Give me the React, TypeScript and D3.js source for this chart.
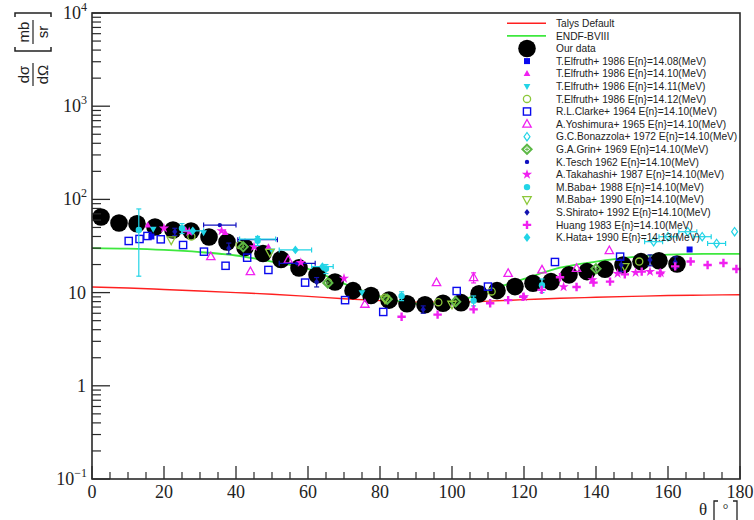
import React from "react";
import * as d3 from "d3";

// θ (deg), value (mb/sr), optional y error, optional x error
type Pt = [number, number, number?, number?];

const ourAngles = [
  2.5, 7.5, 12.5, 17.5, 22.5, 27.5, 32.5, 37.5, 42.5, 47.5, 52.5, 57.5, 62.5,
  67.5, 72.5, 77.5, 82.5, 87.5, 92.5, 97.5, 102.5, 107.5, 112.5, 117.5, 122.5,
  127.5, 132.5, 137.5, 142.5, 147.5, 152.5, 157.5, 162.5,
];
const ourValues = [
  64.7, 55.8, 54.7, 50.6, 47.0, 45.8, 39.5, 34.9, 30.5, 26.3, 22.7, 18.4, 15.5,
  13.0, 10.5, 9.3, 8.3, 7.6, 7.4, 7.7, 7.8, 9.7, 10.5, 11.6, 12.6, 13.1, 15.5,
  16.8, 17.8, 19.8, 21.5, 22.0, 20.3,
];

const curveAngles = [0, 10, 20, 30, 40, 50, 60, 70, 80, 90, 100, 110, 120, 130, 140, 150, 160, 170, 180];
const talysValues = [11.5, 11.2, 10.8, 10.4, 10.0, 9.6, 9.1, 8.6, 8.2, 7.9, 7.9, 8.1, 8.4, 8.7, 8.9, 9.1, 9.3, 9.4, 9.5];
const endfValues = [30, 29.6, 28.7, 27.2, 25, 21.5, 18, 12.5, 9.0, 7.6, 7.9, 10.5, 14, 18.5, 21.5, 24, 25.5, 26, 26];

const elfruth1408: Pt[] = [[16.5, 40], [166, 29]];
const elfruth1410: Pt[] = [[15.5, 53], [26, 47], [37, 44], [49, 31]];
const elfruth1411: Pt[] = [[17, 48], [31, 44], [50, 28], [75, 10]];
const elfruth1412: Pt[] = [[27.6, 40], [41, 32.4], [65.6, 12.9], [81.4, 8.8], [96.2, 7.9], [111, 10.3], [152, 21.5]];
const clarke1964: Pt[] = [
  [10.2, 35.8], [13.2, 37.6], [15.4, 40.5], [19.1, 37.3], [25.3, 32.4], [31.1, 27.5],
  [37.1, 19.4], [43.1, 23.7], [49, 17.5], [59.2, 12.8], [70.3, 8.3], [80.9, 6.2],
  [101.3, 10.4], [110, 11.6], [128.6, 21.3], [146.7, 24.3],
];
const yoshimura1965: Pt[] = [
  [33, 24.3], [44, 16.8], [54.5, 22.4], [75.8, 7.5], [95.7, 12.8], [106, 14.5, 1.8],
  [115.6, 16.1], [125, 17.5], [134.6, 18.2], [143.7, 28.2],
];
const bonazzola1972: Pt[] = [
  [156, 35.2, 0, 2.5], [160, 39.8, 0, 2.5], [165.5, 45, 0, 2.5], [169.5, 39.8, 0, 2.5],
  [173.5, 33.7, 0, 2.5], [178.5, 45],
];
const grin1969: Pt[] = [[42, 31], [65.5, 12.7], [82, 8.5], [101, 8], [140, 18]];
const tesch1962: Pt[] = [[35.5, 53, 0, 4.5], [46, 37, 0, 5.5], [57, 20.6, 0, 5]];
const takahashi1987: Pt[] = [
  [20, 49], [27, 45], [36, 46], [45, 31], [58, 21], [70, 14.2], [120, 9], [131, 11.5],
  [139, 13.7], [146, 16], [151, 16.4], [155, 16.8], [158, 16.2],
];
const baba1988: Pt[] = [[13, 47, 32], [25, 49, 6], [46, 36, 4], [65, 18, 2], [86, 9.2, 1], [106, 8.2, 1], [125, 12, 2]];
const baba1990: Pt[] = [[22, 36.7], [49.4, 27], [81.4, 8.5], [100, 7.5], [148, 19]];
const shirato1992: Pt[] = [[23, 45, 4], [38, 30, 4], [62.4, 13, 1.5], [92, 6.6, 0.6], [147, 19.8, 3], [155, 22.4, 3], [162, 21.2, 3]];
const huang1983: Pt[] = [
  [86, 5.5], [96, 5.8], [106, 6.6], [110.6, 7.7], [115.6, 8.3], [119.8, 9], [124.9, 10.7],
  [130, 14.6], [134.6, 11.5], [139.3, 12.8], [143.9, 13.1], [148, 15.7], [152.7, 16.8],
  [157.8, 16.2], [162, 19.1], [166.3, 21.6], [171, 19.8], [175.4, 20.8], [179, 17.9],
];
const hata1990: Pt[] = [[28, 46, 0, 3], [46, 37.5, 0, 5], [56.5, 28.7, 0, 4.5], [64, 19, 0, 3]];

const xTicks = [0, 20, 40, 60, 80, 100, 120, 140, 160, 180];
const yDecades = [-1, 0, 1, 2, 3, 4];

const BLUE = "#0a0aee";
const MAGENTA = "#f020f0";
const CYAN = "#22d4e6";
const OLIVE = "#8cc83a";
const GRIN = "#5cb845";

type Kind =
  | "bigCircle" | "squareFill" | "triUpFill" | "triDownFill" | "circleOpen"
  | "squareOpen" | "triUpOpen" | "diamondOpen" | "diamondGrin" | "dot" | "star"
  | "circleFill" | "triDownOpen" | "diamondSmall" | "plus" | "diamondFill";

interface Series { label: string; kind: Kind; color: string; points: Pt[] }

const series: Series[] = [
  { label: "T.Elfruth+ 1986 E{n}=14.08(MeV)", kind: "squareFill", color: BLUE, points: elfruth1408 },
  { label: "T.Elfruth+ 1986 E{n}=14.10(MeV)", kind: "triUpFill", color: MAGENTA, points: elfruth1410 },
  { label: "T.Elfruth+ 1986 E{n}=14.11(MeV)", kind: "triDownFill", color: CYAN, points: elfruth1411 },
  { label: "T.Elfruth+ 1986 E{n}=14.12(MeV)", kind: "circleOpen", color: OLIVE, points: elfruth1412 },
  { label: "R.L.Clarke+ 1964 E{n}=14.10(MeV)", kind: "squareOpen", color: BLUE, points: clarke1964 },
  { label: "A.Yoshimura+ 1965 E{n}=14.10(MeV)", kind: "triUpOpen", color: MAGENTA, points: yoshimura1965 },
  { label: "G.C.Bonazzola+ 1972 E{n}=14.10(MeV)", kind: "diamondOpen", color: CYAN, points: bonazzola1972 },
  { label: "G.A.Grin+ 1969 E{n}=14.10(MeV)", kind: "diamondGrin", color: GRIN, points: grin1969 },
  { label: "K.Tesch 1962 E{n}=14.10(MeV)", kind: "dot", color: "#1010c0", points: tesch1962 },
  { label: "A.Takahashi+ 1987 E{n}=14.10(MeV)", kind: "star", color: MAGENTA, points: takahashi1987 },
  { label: "M.Baba+ 1988 E{n}=14.10(MeV)", kind: "circleFill", color: CYAN, points: baba1988 },
  { label: "M.Baba+ 1990 E{n}=14.10(MeV)", kind: "triDownOpen", color: OLIVE, points: baba1990 },
  { label: "S.Shirato+ 1992 E{n}=14.10(MeV)", kind: "diamondSmall", color: "#1414b0", points: shirato1992 },
  { label: "Huang 1983 E{n}=14.10(MeV)", kind: "plus", color: MAGENTA, points: huang1983 },
  { label: "K.Hata+ 1990 E{n}=14.13(MeV)", kind: "diamondFill", color: CYAN, points: hata1990 },
];

const W = 754;
const H = 520;
const x = d3.scaleLinear().domain([0, 180]).range([92, 740]);
const y = d3.scaleLog().domain([0.1, 1e4]).range([479, 13]);

const starPath = d3.symbol().type(d3.symbolStar).size(32)() as string;

function Marker({ kind, color, cx, cy }: { kind: Kind; color: string; cx: number; cy: number }) {
  const t = `translate(${cx},${cy})`;
  switch (kind) {
    case "bigCircle":
      return <circle cx={cx} cy={cy} r={8.8} fill="#000" />;
    case "squareFill":
      return <rect x={cx - 3} y={cy - 3} width={6} height={6} fill={color} />;
    case "triUpFill":
      return <path transform={t} d="M0,-3.6L3.4,2.4L-3.4,2.4Z" fill={color} />;
    case "triDownFill":
      return <path transform={t} d="M0,3.6L3.4,-2.4L-3.4,-2.4Z" fill={color} />;
    case "circleOpen":
      return <circle cx={cx} cy={cy} r={3.6} fill="none" stroke={color} strokeWidth={1.3} />;
    case "squareOpen":
      return <rect x={cx - 3.6} y={cy - 3.6} width={7.2} height={7.2} fill="none" stroke={color} strokeWidth={1.4} />;
    case "triUpOpen":
      return <path transform={t} d="M0,-4.6L4.2,3L-4.2,3Z" fill="none" stroke={color} strokeWidth={1.3} />;
    case "triDownOpen":
      return <path transform={t} d="M0,4.6L4.2,-3L-4.2,-3Z" fill="none" stroke={color} strokeWidth={1.3} />;
    case "diamondOpen":
      return <path transform={t} d="M0,-4.2L3,0L0,4.2L-3,0Z" fill="none" stroke={color} strokeWidth={1.2} />;
    case "diamondGrin":
      return (
        <g transform={t}>
          <path d="M0,-4.6L4.6,0L0,4.6L-4.6,0Z" fill="none" stroke={color} strokeWidth={2} />
          <path d="M-2,0H2M0,-2V2" stroke={color} strokeWidth={1} />
        </g>
      );
    case "dot":
      return <circle cx={cx} cy={cy} r={2.2} fill={color} />;
    case "star":
      return <path transform={t} d={starPath} fill={color} />;
    case "circleFill":
      return <circle cx={cx} cy={cy} r={3.2} fill={color} />;
    case "diamondSmall":
      return <path transform={t} d="M0,-3.4L2.6,0L0,3.4L-2.6,0Z" fill={color} />;
    case "plus":
      return <path transform={t} d="M-1.2,-4.2H1.2V-1.2H4.2V1.2H1.2V4.2H-1.2V1.2H-4.2V-1.2H-1.2Z" fill={color} />;
    case "diamondFill":
      return <path transform={t} d="M0,-4.4L3.4,0L0,4.4L-3.4,0Z" fill={color} />;
  }
  return null;
}

function ErrorBars({ s }: { s: Series }) {
  const items: React.ReactNode[] = [];
  s.points.forEach((p, i) => {
    const [a, v, ey, ex] = p;
    const cx = x(a);
    const cy = y(v);
    if (ey) {
      const y1 = y(v + ey);
      const y2 = y(Math.max(v - ey, 0.11));
      items.push(
        <g key={`y${i}`} stroke={s.color} strokeWidth={1.2}>
          <line x1={cx} x2={cx} y1={y1} y2={y2} />
          <line x1={cx - 2.5} x2={cx + 2.5} y1={y1} y2={y1} />
          <line x1={cx - 2.5} x2={cx + 2.5} y1={y2} y2={y2} />
        </g>
      );
    }
    if (ex) {
      const x1 = x(a - ex);
      const x2 = x(a + ex);
      items.push(
        <g key={`x${i}`} stroke={s.color} strokeWidth={1.2}>
          <line x1={x1} x2={x2} y1={cy} y2={cy} />
          <line x1={x1} x2={x1} y1={cy - 2.5} y2={cy + 2.5} />
          <line x1={x2} x2={x2} y1={cy - 2.5} y2={cy + 2.5} />
        </g>
      );
    }
  });
  return <g>{items}</g>;
}

export default function App() {
  const line = d3
    .line<number>()
    .x((_, i) => x(curveAngles[i]))
    .y((d) => y(d))
    .curve(d3.curveMonotoneX);

  const minorY: number[] = [];
  for (let e = -1; e < 4; e++) {
    for (let k = 2; k <= 9; k++) minorY.push(k * Math.pow(10, e));
  }
  const minorX = d3.range(0, 181, 5).filter((v) => v % 20 !== 0);

  const rowY = (i: number) => 23.3 + 12.6 * i;
  const legendX = 527;
  const textX = 556;

  const serif = "'Liberation Serif', 'DejaVu Serif', serif";
  const sans = "'Liberation Sans', Arial, sans-serif";

  return (
    <svg width={W} height={H} style={{ position: "absolute", left: 0, top: 0, background: "#fff" }}>
      <rect width={W} height={H} fill="#fff" />

      {/* model curves */}
      <path d={line(talysValues) as string} fill="none" stroke="#ff2020" strokeWidth={1.4} />
      <path d={line(endfValues) as string} fill="none" stroke="#3ee83e" strokeWidth={1.8} />

      {/* measured cross sections */}
      {ourAngles.map((a, i) => (
        <Marker key={`o${i}`} kind="bigCircle" color="#000" cx={x(a)} cy={y(ourValues[i])} />
      ))}
      {series.map((s, si) => (
        <g key={`s${si}`}>
          <ErrorBars s={s} />
          {s.points.map((p, i) => (
            <Marker key={i} kind={s.kind} color={s.color} cx={x(p[0])} cy={y(p[1])} />
          ))}
        </g>
      ))}

      {/* frame */}
      <rect x={92} y={13} width={648} height={466} fill="none" stroke="#2a2a2a" strokeWidth={1.6} />

      {/* y axis ticks */}
      {yDecades.map((e) => (
        <line key={`ym${e}`} x1={92} x2={110} y1={y(Math.pow(10, e))} y2={y(Math.pow(10, e))} stroke="#2a2a2a" strokeWidth={1.3} />
      ))}
      {minorY.map((v, i) => (
        <line key={`yn${i}`} x1={92} x2={101} y1={y(v)} y2={y(v)} stroke="#2a2a2a" strokeWidth={1.2} />
      ))}
      {yDecades.map((e) => {
        const ty = y(Math.pow(10, e)) + 6;
        if (e === 0) return <text key={`yl${e}`} x={86} y={ty} textAnchor="end" fontFamily={serif} fontSize={18} fill="#222">1</text>;
        if (e === 1) return <text key={`yl${e}`} x={86} y={ty} textAnchor="end" fontFamily={serif} fontSize={18} fill="#222">10</text>;
        return (
          <text key={`yl${e}`} x={87} y={ty} textAnchor="end" fontFamily={serif} fontSize={18} fill="#222">
            10
            <tspan fontSize={12} dy={-8}>{e < 0 ? "\u2212" + Math.abs(e) : String(e)}</tspan>
          </text>
        );
      })}

      {/* x axis ticks */}
      {xTicks.map((v) => (
        <line key={`xm${v}`} x1={x(v)} x2={x(v)} y1={479} y2={466} stroke="#2a2a2a" strokeWidth={1.3} />
      ))}
      {minorX.map((v) => (
        <line key={`xn${v}`} x1={x(v)} x2={x(v)} y1={479} y2={472} stroke="#2a2a2a" strokeWidth={1.2} />
      ))}
      {xTicks.map((v) => (
        <text key={`xl${v}`} x={x(v)} y={498} textAnchor="middle" fontFamily={serif} fontSize={18} fill="#222">
          {v}
        </text>
      ))}

      {/* x axis title: θ [°] */}
      <text x={703} y={515} textAnchor="middle" fontFamily={serif} fontSize={17} fill="#222">θ</text>
      <path d="M718,501H714V520" fill="none" stroke="#222" strokeWidth={1.3} />
      <path d="M733,501H737V520" fill="none" stroke="#222" strokeWidth={1.3} />
      <text x={725.5} y={514} textAnchor="middle" fontFamily={serif} fontSize={14} fill="#222">°</text>

      {/* y axis title: dσ/dΩ [mb/sr] */}
      <g transform="translate(33,50) rotate(-90)" fontFamily={sans} fontSize={15} fill="#222">
        <text x={-24.5} y={-4} textAnchor="middle">dσ</text>
        <line x1={-36} x2={-13} y1={0} y2={0} stroke="#222" strokeWidth={1.2} />
        <text x={-24.5} y={15} textAnchor="middle">dΩ</text>
        <path d="M3,-18H-1V18H3" fill="none" stroke="#222" strokeWidth={1.5} />
        <text x={18} y={-4} textAnchor="middle">mb</text>
        <line x1={6} x2={30} y1={0} y2={0} stroke="#222" strokeWidth={1.2} />
        <text x={18} y={15} textAnchor="middle">sr</text>
        <path d="M33,-18H37V18H33" fill="none" stroke="#222" strokeWidth={1.5} />
      </g>

      {/* legend */}
      <g fontFamily={sans} fontSize={10.2} fill="#222">
        <line x1={507} x2={546} y1={rowY(0)} y2={rowY(0)} stroke="#ff2020" strokeWidth={1.4} />
        <text x={textX} y={rowY(0) + 3.6}>Talys Default</text>
        <line x1={507} x2={546} y1={rowY(1)} y2={rowY(1)} stroke="#3ee83e" strokeWidth={1.8} />
        <text x={textX} y={rowY(1) + 3.6}>ENDF-BVIII</text>
        <Marker kind="bigCircle" color="#000" cx={legendX} cy={rowY(2)} />
        <text x={textX} y={rowY(2) + 3.6}>Our data</text>
        {series.map((s, i) => (
          <g key={`lg${i}`}>
            <Marker kind={s.kind} color={s.color} cx={legendX} cy={rowY(i + 3)} />
            <text x={textX} y={rowY(i + 3) + 3.6}>{s.label}</text>
          </g>
        ))}
      </g>
    </svg>
  );
}
